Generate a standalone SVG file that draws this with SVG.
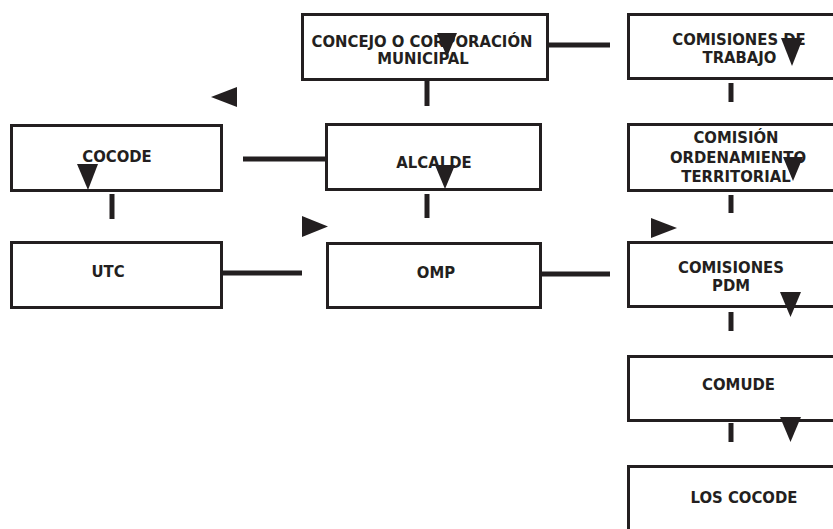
<svg xmlns="http://www.w3.org/2000/svg" width="833" height="529" viewBox="0 0 833 529">
<style>
.box{fill:#fff;stroke:#231f20;stroke-width:3}
.lbl{font-family:"DejaVu Sans Condensed","DejaVu Sans","Liberation Sans",sans-serif;font-stretch:condensed;font-weight:bold;font-size:16.5px;fill:#231f20;text-anchor:middle}
.ln{stroke:#231f20;stroke-width:5;fill:none}
.tri{fill:#231f20}
</style>
<rect width="833" height="529" fill="#fff"/>
<g id="concejo"><rect class="box" x="302.5" y="14.5" width="245" height="65"/>
<text class="lbl" x="422" y="47">CONCEJO O CORPORACIÓN</text><text class="lbl" x="423" y="63.5">MUNICIPAL</text></g>
<g id="comisiones-trabajo"><rect class="box" x="628.5" y="14.5" width="220" height="64"/>
<text class="lbl" x="739" y="45">COMISIONES DE</text><text class="lbl" x="739.5" y="63">TRABAJO</text></g>
<g id="cocode"><rect class="box" x="11.5" y="125.5" width="210" height="65"/>
<text class="lbl" x="117" y="162">COCODE</text></g>
<g id="alcalde"><rect class="box" x="326.5" y="124.5" width="214" height="65"/>
<text class="lbl" x="434" y="168">ALCALDE</text></g>
<g id="comision-ordenamiento"><rect class="box" x="628.5" y="124.5" width="220" height="66"/>
<text class="lbl" x="736" y="143">COMISIÓN</text><text class="lbl" x="738" y="163">ORDENAMIENTO</text><text class="lbl" x="736" y="182">TERRITORIAL</text></g>
<g id="utc"><rect class="box" x="11.5" y="242.5" width="210" height="65"/>
<text class="lbl" x="108" y="277">UTC</text></g>
<g id="omp"><rect class="box" x="327.5" y="243.5" width="213" height="64"/>
<text class="lbl" x="436" y="278">OMP</text></g>
<g id="comisiones-pdm"><rect class="box" x="628.5" y="242.5" width="220" height="64"/>
<text class="lbl" x="731" y="273">COMISIONES</text><text class="lbl" x="731" y="291">PDM</text></g>
<g id="comude"><rect class="box" x="628.5" y="356.5" width="220" height="64"/>
<text class="lbl" x="738.5" y="390">COMUDE</text></g>
<g id="los-cocode"><rect class="box" x="628.5" y="466.5" width="220" height="65"/>
<text class="lbl" x="744" y="503">LOS COCODE</text></g>
<g id="connectors">
<line class="ln" x1="549" y1="45" x2="610" y2="45"/>
<line class="ln" x1="243" y1="159" x2="325" y2="159"/>
<line class="ln" x1="223" y1="273" x2="302" y2="273"/>
<line class="ln" x1="542" y1="274" x2="610" y2="274"/>
<line class="ln" x1="427" y1="81" x2="427" y2="106"/>
<line class="ln" x1="427" y1="194" x2="427" y2="218"/>
<line class="ln" x1="112" y1="194" x2="112" y2="219"/>
<line class="ln" x1="731" y1="83" x2="731" y2="102"/>
<line class="ln" x1="731" y1="195" x2="731" y2="213"/>
<line class="ln" x1="731" y1="312" x2="731" y2="331"/>
<line class="ln" x1="731" y1="423" x2="731" y2="442"/>
<g id="arrowheads">
<polygon class="tri" points="237,87 237,107 211,97"/>
<polygon class="tri" points="302,216 302,237 328,226.5"/>
<polygon class="tri" points="651,218 651,238 677,228"/>
<polygon class="tri" points="437,33 457,33 447,57"/>
<polygon class="tri" points="781,38 803,38 792,66"/>
<polygon class="tri" points="77,164 98,164 88,190"/>
<polygon class="tri" points="435,165 455,165 445,189"/>
<polygon class="tri" points="783,157 803,157 793,181"/>
<polygon class="tri" points="780,292 801,292 790.5,317"/>
<polygon class="tri" points="780,417 801,417 790.5,442"/>
</g>
</g>
</svg>
